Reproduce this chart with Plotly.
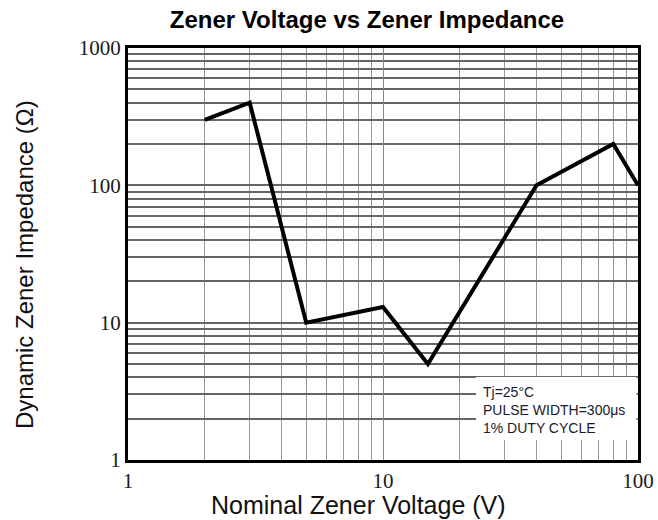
import plotly.graph_objects as go

voltage = [2, 3, 5, 10, 15, 40, 80, 100]
impedance = [300, 400, 10, 13, 5, 100, 200, 100]

x_ticks = [1, 10, 100]
y_ticks = [1, 10, 100, 1000]
note_lines = ["Tj=25°C", "PULSE WIDTH=300μs", "1% DUTY CYCLE"]

W, H = 658, 520
L, R, T, B = 128, 20, 48, 60
pw, ph = W - L - R, H - T - B

def px(xp):
    return (xp - L) / pw

def py(yp):
    return (H - B - yp) / ph

fig = go.Figure()
fig.add_trace(go.Scatter(x=voltage, y=impedance, mode="lines",
                         line=dict(color="black", width=4), showlegend=False))

tickfont = dict(family="Liberation Serif, Times New Roman, serif", size=21, color="#1a1a1a")

fig.update_xaxes(type="log", range=[0, 2], tickvals=x_ticks,
                 ticktext=[str(v) for v in x_ticks], tickfont=tickfont,
                 showgrid=True, gridcolor="#888", gridwidth=1,
                 minor=dict(dtick="D1", showgrid=True, gridcolor="#999", gridwidth=1, ticks=""),
                 showline=True, linecolor="black", linewidth=3, mirror=True,
                 ticks="", zeroline=False, automargin=False, ticklabelstandoff=0)
fig.update_yaxes(type="log", range=[0, 3], tickvals=y_ticks,
                 ticktext=[str(v) for v in y_ticks], tickfont=tickfont,
                 showgrid=True, gridcolor="#666", gridwidth=1,
                 minor=dict(dtick="D1", showgrid=True, gridcolor="#666", gridwidth=1.5, ticks=""),
                 showline=True, linecolor="black", linewidth=3, mirror=True,
                 ticks="", zeroline=False, automargin=False)

fig.add_shape(type="rect", xref="paper", yref="paper",
              x0=px(476), x1=px(636.5), y0=py(440), y1=py(377),
              fillcolor="white", line=dict(width=0), layer="above")
fig.add_annotation(xref="paper", yref="paper", x=px(481), y=py(382),
                   xanchor="left", yanchor="top", align="left", showarrow=False,
                   text="<br>".join(note_lines),
                   font=dict(family="Liberation Sans, Arial, sans-serif", size=14, color="#1a1a2e"))

fig.add_annotation(xref="paper", yref="paper", x=px(358), y=py(505),
                   xanchor="center", yanchor="middle", showarrow=False,
                   text="Nominal Zener Voltage (V)",
                   font=dict(family="Liberation Sans, Arial, sans-serif", size=25, color="#111"))
fig.add_annotation(xref="paper", yref="paper", x=px(24), y=py(265),
                   xanchor="center", yanchor="middle", showarrow=False, textangle=-90,
                   text="Dynamic Zener Impedance (Ω)",
                   font=dict(family="Liberation Sans, Arial, sans-serif", size=24, color="#111"))

fig.update_layout(
    width=W, height=H, autosize=False,
    margin=dict(l=L, r=R, t=T, b=B, autoexpand=False),
    paper_bgcolor="white", plot_bgcolor="white",
    title=dict(text="<b>Zener Voltage vs Zener Impedance</b>", x=367 / W, xanchor="center",
               y=1 - 20 / H, yanchor="middle",
               font=dict(family="Liberation Sans, Arial, sans-serif", size=24, color="black")),
)

fig.write_html("out.html",
               config={"responsive": False, "displayModeBar": False},
               post_script="document.body.style.margin='0';document.body.style.overflow='hidden';document.documentElement.style.overflow='hidden';")
